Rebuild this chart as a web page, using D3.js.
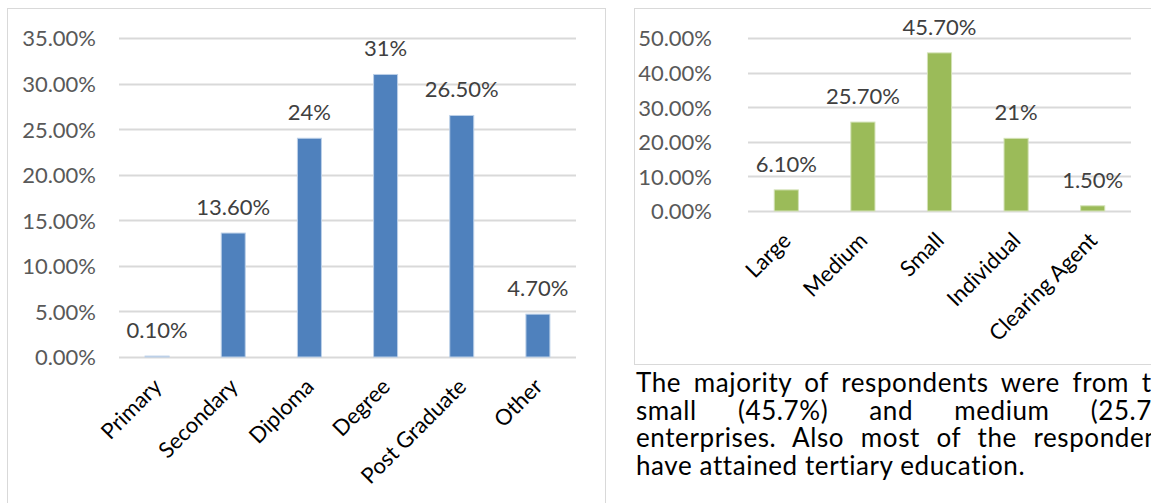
<!DOCTYPE html>
<html>
<head>
<meta charset="utf-8">
<script src="https://cdn.jsdelivr.net/npm/d3@7"></script>
<style>
  body { margin: 0; background: #fff; overflow: hidden; }
  #chart { position: absolute; left: 0; top: 0; }
  #note {
    position: absolute; left: 636px; top: 369px; width: 545px;
    font-family: Lato, "Open Sans", sans-serif; font-size: 26px; letter-spacing: 0.6px;
    line-height: 27.5px; color: #000; white-space: nowrap;
  }
  #note .j { text-align: justify; text-align-last: justify; white-space: normal; }
</style>
</head>
<body>
<svg id="chart" width="1151" height="503"></svg>
<div id="note">
  <div class="j">The majority of respondents were from the</div>
  <div class="j">small (45.7%) and medium (25.7%)</div>
  <div class="j">enterprises. Also most of the respondents</div>
  <div>have attained tertiary education.</div>
</div>
<script>
// Education level of respondents (%)
const eduCategories = ["Primary", "Secondary", "Diploma", "Degree", "Post Graduate", "Other"];
const eduValues = [0.1, 13.6, 24, 31, 26.5, 4.7];
const eduLabels = ["0.10%", "13.60%", "24%", "31%", "26.50%", "4.70%"];
const eduTicks = [0, 5, 10, 15, 20, 25, 30, 35];

// Enterprise size of respondents (%)
const sizeCategories = ["Large", "Medium", "Small", "Individual", "Clearing Agent"];
const sizeValues = [6.1, 25.7, 45.7, 21, 1.5];
const sizeLabels = ["6.10%", "25.70%", "45.70%", "21%", "1.50%"];
const sizeTicks = [0, 10, 20, 30, 40, 50];

const FONT = "Lato, 'Open Sans', sans-serif";
const svg = d3.select("#chart");

function drawChart(opt) {
  const g = svg.append("g");

  // chart frame
  g.append("rect")
    .attr("x", opt.box[0] + 0.5).attr("y", opt.box[1] + 0.5)
    .attr("width", opt.box[2]).attr("height", opt.box[3])
    .attr("fill", "#fff").attr("stroke", "#d9d9d9").attr("stroke-width", 1);

  const x = d3.scaleBand()
    .domain(opt.categories)
    .range([opt.plot.x0, opt.plot.x1])
    .paddingInner(0.685).paddingOuter(0.3425);

  const y = d3.scaleLinear()
    .domain([0, d3.max(opt.ticks)])
    .range([opt.plot.y0, opt.plot.y1]);

  // gridlines
  g.append("g").selectAll("line")
    .data(opt.ticks)
    .join("line")
    .attr("x1", opt.plot.x0).attr("x2", opt.plot.x1)
    .attr("y1", d => Math.round(y(d)) + 0.5).attr("y2", d => Math.round(y(d)) + 0.5)
    .attr("stroke", "#d9d9d9").attr("stroke-width", 2);

  // value axis
  const yAxis = d3.axisLeft(y)
    .tickValues(opt.ticks)
    .tickFormat(d => d.toFixed(2) + "%")
    .tickSize(0).tickPadding(0);
  const ya = g.append("g")
    .attr("transform", `translate(${opt.plot.x0 - opt.tickGap},0)`)
    .call(yAxis);
  ya.select(".domain").remove();
  ya.selectAll("text")
    .attr("font-family", FONT).attr("font-size", opt.fontSize)
    .attr("fill", "#595959").attr("dy", "0.36em");

  // bars
  g.append("g").selectAll("rect")
    .data(opt.values)
    .join("rect")
    .attr("x", (d, i) => x(opt.categories[i]))
    .attr("width", x.bandwidth())
    .attr("y", d => y(d))
    .attr("height", d => y(0) - y(d))
    .attr("fill", opt.color)
    .attr("stroke", opt.edge).attr("stroke-width", 1);

  // data labels
  g.append("g").selectAll("text")
    .data(opt.values)
    .join("text")
    .attr("x", (d, i) => x(opt.categories[i]) + x.bandwidth() / 2)
    .attr("y", d => y(d) - 18)
    .attr("text-anchor", "middle")
    .attr("font-family", FONT).attr("font-size", opt.fontSize)
    .attr("fill", "#404040")
    .text((d, i) => opt.labels[i]);

  // category axis, labels rotated -45°
  const xAxis = d3.axisBottom(x).tickSize(0).tickPadding(0);
  const xa = g.append("g")
    .attr("transform", `translate(0,${opt.plot.y0})`)
    .call(xAxis);
  xa.select(".domain").remove();
  xa.selectAll("text")
    .attr("font-family", FONT).attr("font-size", opt.fontSize)
    .attr("fill", "#000")
    .attr("text-anchor", "end")
    .attr("dy", "0.35em")
    .attr("y", 0)
    .attr("transform", `translate(0.5,${opt.catGap}) rotate(-45)`);
}

drawChart({
  box: [7, 8, 598, 520],
  plot: { x0: 119, x1: 576, y0: 357, y1: 38 },
  categories: eduCategories, values: eduValues, labels: eduLabels, ticks: eduTicks,
  color: "#4f81bd", edge: "#bcd0e8",
  fontSize: 22, tickGap: 23, catGap: 25.5
});

drawChart({
  box: [634, 8, 540, 356],
  plot: { x0: 748, x1: 1131, y0: 211, y1: 38 },
  categories: sizeCategories, values: sizeValues, labels: sizeLabels, ticks: sizeTicks,
  color: "#9bbb59", edge: "#d3e2b6",
  fontSize: 22, tickGap: 36, catGap: 25.5
});
</script>
</body>
</html>
